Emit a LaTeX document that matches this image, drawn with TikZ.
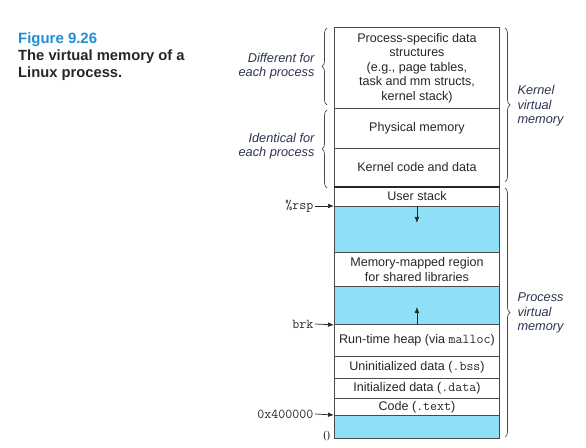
\documentclass[tikz,border=0pt]{standalone}
\usepackage{fontspec}
\usetikzlibrary{arrows.meta, decorations.pathreplacing, positioning, calc}
\newfontfamily\helv{Liberation Sans}
\definecolor{zonebleu}{HTML}{8EE0F6}
\definecolor{figbleu}{HTML}{1C8FD6}
\definecolor{traitgris}{HTML}{4A4A4A}
\definecolor{texteital}{HTML}{2B3550}
\newcommand{\mono}[1]{{\ttfamily\fontsize{13.6}{14}\selectfont #1}}

\tikzset{
  zone/.style={draw=traitgris, line width=0.9bp, inner sep=0pt, minimum width=165bp,
    anchor=north west, align=center, text=black!85,
    font=\helv\fontsize{12.6}{14.5}\selectfont},
  vide/.style={zone, fill=zonebleu},
  pointeur/.style={-{Latex[length=6bp,width=4.6bp]}, line width=0.7bp, black!85},
  accolade/.style={decorate, decoration={brace, amplitude=5bp}, draw=traitgris, line width=0.7bp},
  etiq/.style={font=\helv\itshape\fontsize{12.8}{14.5}\selectfont, text=texteital},
  adresse/.style={anchor=east, inner sep=1.5bp, text=black!85, font=\ttfamily\fontsize{13.6}{14}\selectfont},
  legende/.style={anchor=base west, inner sep=0pt, text=black!85, font=\helv\bfseries\fontsize{14.8}{17}\selectfont},
}

\begin{document}
\begin{tikzpicture}[x=1bp, y=-1bp]
  \useasboundingbox (0,0) rectangle (586,448);

  % === LEGENDE ===
  \node[legende, text=figbleu, font=\helv\bfseries\fontsize{15}{17}\selectfont] (fig) at (18,44) {Figure 9.26};
  \node[legende] (titre) at (18,61) {The virtual memory of a};
  \node[legende] (titre2) at (18,78) {Linux process.};

  % === ZONES NOYAU ===
  \node[zone, minimum height=81bp] (kproc) at (334,27) {Process-specific data\\structures\\(e.g., page tables,\\task and mm structs,\\kernel stack)};
  \node[zone, minimum height=40bp] (phys) at (334,108) {Physical memory};
  \node[zone, minimum height=38bp] (kcode) at (334,148) {Kernel code and data};

  % === ZONES PROCESSUS ===
  \node[zone, minimum height=20bp] (ustack) at (334,186) {User stack};
  \node[vide, minimum height=46bp] (trou1) at (334,206) {};
  \node[zone, minimum height=34bp] (mmap) at (334,252) {Memory-mapped region\\for shared libraries};
  \node[vide, minimum height=38bp] (trou2) at (334,286) {};
  \node[zone, minimum height=32bp] (tas) at (334,324) {Run-time heap (via \mono{malloc})};
  \node[zone, minimum height=22bp] (bss) at (334,356) {Uninitialized data (\mono{.bss})};
  \node[zone, minimum height=20bp] (data) at (334,378) {Initialized data (\mono{.data})};
  \node[zone, minimum height=17bp] (text) at (334,398) {Code (\mono{.text})};
  \node[vide, minimum height=23bp] (trou3) at (334,415) {};

  % separation noyau / processus
  \draw[line width=2.6bp, black!85] (kcode.south west) -- (kcode.south east);

  % === POINTEURS ===
  \node[adresse] (rsp) at (315,206) {\%rsp};
  \node[adresse] (brk) at (315,324) {brk};
  \node[adresse] (debut) at (315,414) {0x400000};
  \node[anchor=east, inner sep=1.5bp, text=black!85, font=\rmfamily\fontsize{14}{14}\selectfont] (zero) at (332,436) {0};
  \draw[pointeur] (rsp.east) -- (trou1.north west);
  \draw[pointeur] (brk.east) -- (trou2.south west);
  \draw[pointeur] (debut.east) -- (trou3.north west);

  % croissance pile et tas
  \coordinate (pileFin) at ($(trou1.north)+(0,17)$);
  \coordinate (tasFin) at ($(trou2.south)+(0,-18)$);
  \draw[pointeur] (trou1.north) -- (pileFin);
  \draw[pointeur] (trou2.south) -- (tasFin);

  % === ACCOLADES ===
  \draw[accolade] (327,105) -- (327,28);
  \draw[accolade] (327,188) -- (327,110);
  \draw[accolade] (505,28) -- (505,182);
  \draw[accolade] (505,188) -- (505,437);

  \node[etiq, anchor=east, align=right] (diff) at (318,66) {Different for\\each process};
  \node[etiq, anchor=east, align=right] (ident) at (318,146) {Identical for\\each process};
  \node[etiq, anchor=west, align=left] (kvm) at (514,106) {Kernel\\virtual\\memory};
  \node[etiq, anchor=west, align=left] (pvm) at (514,313) {Process\\virtual\\memory};
\end{tikzpicture}
\end{document}
